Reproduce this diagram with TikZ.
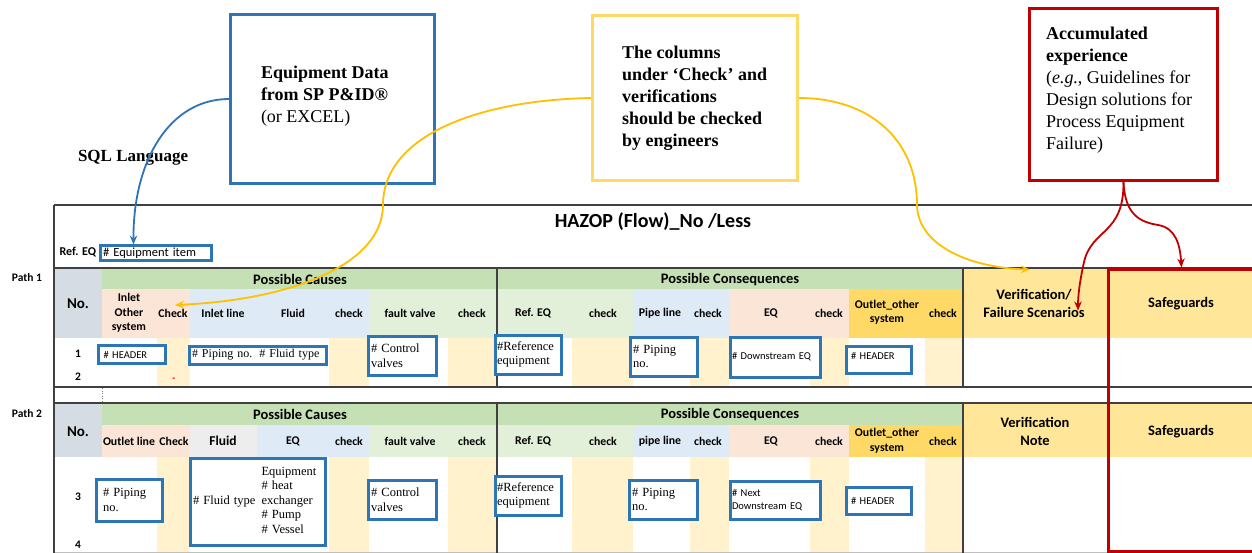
\documentclass[tikz,border=0pt]{standalone}
\usepackage{fontspec}
\setmainfont{Liberation Serif}
\newfontfamily\calib{Carlito}
\usetikzlibrary{arrows.meta}
\definecolor{eqblue}{HTML}{2E75B6}
\definecolor{rd}{HTML}{C00000}
\definecolor{ylw}{HTML}{FFC000}
\definecolor{ylwbox}{HTML}{FFD966}
\definecolor{nocol}{HTML}{D6DCE4}
\definecolor{cband}{HTML}{C5E0B4}
\definecolor{salmon}{HTML}{FBE5D6}
\definecolor{ltblue}{HTML}{DEEBF7}
\definecolor{ltgreen}{HTML}{E2F0D9}
\definecolor{gold}{HTML}{FFD966}
\definecolor{vergold}{HTML}{FFE699}
\definecolor{paley}{HTML}{FFF2CC}
\definecolor{ltgray}{HTML}{EDEDED}
\definecolor{frm}{HTML}{404040}
\hyphenpenalty=10000
\exhyphenpenalty=10000
\begin{document}
\begin{tikzpicture}[x=1pt,y=-1pt,
 tx/.style={inner sep=0pt, outer sep=0pt},
 hd/.style={tx, font=\calib\bfseries\fontsize{11.8}{14.5}\selectfont, align=center},
 bandtxt/.style={tx, font=\calib\bfseries\fontsize{14.5}{17}\selectfont},
 bighd/.style={tx, font=\calib\bfseries\fontsize{14.5}{18}\selectfont, align=center},
 lab/.style={tx, font=\calib\bfseries\fontsize{11.5}{13}\selectfont},
 nohd/.style={tx, font=\calib\bfseries\fontsize{15}{18}\selectfont},
 tline/.style={draw=frm, line width=1.6pt},
 bb/.style={draw=eqblue, line width=3pt, fill=white, inner xsep=3pt, inner ysep=0pt, align=left, anchor=north west, font=\fontsize{12.5}{14.5}\selectfont},
 cb/.style={bb, font=\calib\fontsize{10.5}{13}\selectfont},
 frame box/.style={line width=3pt, inner sep=0pt},
 toptext/.style={tx, anchor=north west, align=left, font=\fontsize{18}{22}\selectfont},
 arr/.style={line width=1.8pt, -{Stealth[length=9pt,width=7.5pt]}},
]
\useasboundingbox (0,0) rectangle (1252,553);
\fill[white] (0,0) rectangle (1252,553);

% ---------- Path 1 fills ----------
\fill[nocol] (54,268) rectangle (102,338);
\fill[cband] (102,268) rectangle (963,289);
\fill[salmon] (102,289) rectangle (190,338);
\fill[ltblue] (190,289) rectangle (369,338);
\fill[ltgreen] (369,289) rectangle (633,338);
\fill[ltblue] (633,289) rectangle (729,338);
\fill[salmon] (729,289) rectangle (849,338);
\fill[gold] (849,289) rectangle (963,338);
\fill[vergold] (963,268) rectangle (1252,338);
\foreach \a/\b in {157/190,329/369,448/497,572/633,690/729,810/849,925/963}
  \fill[paley] (\a,338) rectangle (\b,387);

% ---------- Path 2 fills ----------
\fill[nocol] (54,403) rectangle (102,457);
\fill[cband] (102,403) rectangle (963,425);
\fill[salmon] (102,425) rectangle (190,457);
\fill[ltgray] (190,425) rectangle (257,457);
\fill[ltblue] (257,425) rectangle (369,457);
\fill[ltgreen] (369,425) rectangle (633,457);
\fill[ltblue] (633,425) rectangle (729,457);
\fill[salmon] (729,425) rectangle (849,457);
\fill[gold] (849,425) rectangle (963,457);
\fill[vergold] (963,403) rectangle (1252,457);
\foreach \a/\b in {157/190,329/369,448/497,572/633,690/729,810/849,925/963}
  \fill[paley] (\a,457) rectangle (\b,553);

% ---------- table lines ----------
\draw[tline] (54,205) -- (1252,205);
\draw[tline] (54,268) -- (1252,268);
\draw[tline] (54,387) -- (1252,387);
\draw[tline] (54,403) -- (1252,403);
\draw[draw=black!25, line width=1.2pt] (54,552.4) -- (1252,552.4);
\draw[tline] (54,205) -- (54,553);
\foreach \x in {497,963} {
  \draw[tline] (\x,268) -- (\x,387);
  \draw[tline] (\x,403) -- (\x,553);
}
\draw[gray, dotted, line width=0.6pt] (102,388) -- (102,402);

% ---------- table header texts ----------
\node[tx, font=\calib\bfseries\fontsize{20}{24}\selectfont] (title) at (653,222) {HAZOP (Flow)\_No /Less};
\node[tx, anchor=east, font=\calib\bfseries\fontsize{12}{14}\selectfont] (refeq) at (96,252) {Ref. EQ};
\node[lab] (p1) at (27,278) {Path 1};
\node[lab] (p2) at (27,414) {Path 2};

% Path 1 headers
\node[nohd] (no1) at (78,304) {No.};
\node[bandtxt] (pc1) at (300,279.5) {Possible Causes};
\node[bandtxt] (pq1) at (730,279.5) {Possible Consequences};
\node[hd] (h1a) at (129,313) {Inlet\\Other\\system};
\node[hd] (chk1) at (173,313) {Check};
\node[hd] (h1c) at (223,313) {Inlet line};
\node[hd] (h1d) at (293,313) {Fluid};
\node[hd] (h1e) at (349,313) {check};
\node[hd] (h1f) at (410,313) {fault valve};
\node[hd] (h1g) at (472,313) {check};
\node[hd] (h1h) at (533,313) {Ref. EQ};
\node[hd] (h1i) at (603,313) {check};
\node[hd] (h1j) at (660,313) {Pipe line};
\node[hd] (h1k) at (708,313) {check};
\node[hd] (h1l) at (771,313) {EQ};
\node[hd] (h1m) at (829,313) {check};
\node[hd] (h1n) at (887,312.5) {Outlet\_other\\system};
\node[hd] (h1o) at (943,313) {check};
\node[bighd, minimum width=142pt, minimum height=70pt] (ver1) at (1034,303.5) {Verification/\\Failure Scenarios};
\node[bighd] (sg1) at (1181,304) {Safeguards};
\node[lab] (r1) at (78,354) {1};
\node[lab] (r2) at (78,377) {2};
\node[tx, text=red, font=\calib\bfseries\fontsize{10}{10}\selectfont] (dash) at (174,380) {-};

% Path 2 headers
\node[nohd] (no2) at (78,432) {No.};
\node[bandtxt] (pc2) at (300,414.5) {Possible Causes};
\node[bandtxt] (pq2) at (730,414.5) {Possible Consequences};
\node[hd] (h2a) at (129,441) {Outlet line};
\node[hd] (h2b) at (174,441) {Check};
\node[hd, font=\calib\bfseries\fontsize{13.5}{15}\selectfont] (h2c) at (223,441) {Fluid};
\node[hd] (h2d) at (293,441) {EQ};
\node[hd] (h2e) at (349,441) {check};
\node[hd] (h2f) at (410,441) {fault valve};
\node[hd] (h2g) at (472,441) {check};
\node[hd] (h2h) at (533,441) {Ref. EQ};
\node[hd] (h2i) at (603,441) {check};
\node[hd] (h2j) at (660,441) {pipe line};
\node[hd] (h2k) at (708,441) {check};
\node[hd] (h2l) at (771,441) {EQ};
\node[hd] (h2m) at (829,441) {check};
\node[hd] (h2n) at (887,441) {Outlet\_other\\system};
\node[hd] (h2o) at (943,441) {check};
\node[bighd] (ver2) at (1035,431) {Verification\\Note};
\node[bighd] (sg2) at (1181,432) {Safeguards};
\node[lab] (r3) at (78,497) {3};
\node[lab] (r4) at (78,545) {4};

% ---------- blue data boxes ----------
\node[cb, minimum width=111pt, minimum height=15pt, text width=105pt, font=\calib\fontsize{12.5}{14}\selectfont] (eqitem) at (98.5,244.5) {\# Equipment item};
% path 1
\node[cb, inner xsep=5pt, minimum width=67pt, minimum height=18pt, text width=57pt] (hdr1) at (97,344) {\# HEADER};
\node[bb, minimum width=137pt, minimum height=18pt, text width=131pt, font=\fontsize{12}{14}\selectfont] (pf1) at (187.5,344.5) {\mbox{\# Piping no.\hspace{7pt}\# Fluid type}};
\node[bb, minimum width=68pt, minimum height=39pt, text width=62pt] (cv1) at (366.5,334.5) {\# Control\\valves};
\node[bb, minimum width=66pt, minimum height=39pt, text width=62pt, inner xsep=2pt] (re1) at (493.5,333.5) {\#Reference\\equipment};
\node[bb, minimum width=67pt, minimum height=39pt, text width=61pt] (pp1) at (628.5,335.5) {\# Piping\\no.};
\node[cb, inner xsep=2pt, minimum width=90pt, minimum height=40pt, text width=86pt] (dq1) at (728.5,335.5) {\# Downstream EQ};
\node[cb, inner xsep=5pt, minimum width=65pt, minimum height=27pt, text width=55pt] (hdr2) at (844.5,344.5) {\# HEADER\\[-6pt]\mbox{}};
% path 2
\node[bb, inner xsep=7pt, minimum width=66pt, minimum height=42pt, text width=52pt] (pp2a) at (94.5,477.5) {\# Piping\\no.};
\node[bb, minimum width=135pt, minimum height=87pt, text width=129pt] (fl2) at (188.5,456.5)
  {\begin{tabular}{@{}l@{\hspace{6pt}}l@{}}\# Fluid type & \begin{tabular}[c]{@{}l@{}}Equipment\\\# heat\\exchanger\\\# Pump\\\# Vessel\end{tabular}\end{tabular}};
\node[bb, minimum width=68pt, minimum height=39pt, text width=62pt] (cv2) at (366.5,478.5) {\# Control\\valves};
\node[bb, minimum width=66pt, minimum height=39pt, text width=62pt, inner xsep=2pt] (re2) at (493.5,474.5) {\#Reference\\equipment};
\node[bb, minimum width=68pt, minimum height=39pt, text width=62pt] (pp2) at (627.5,478.5) {\# Piping\\no.};
\node[cb, inner xsep=2pt, minimum width=90pt, minimum height=38pt, text width=86pt] (dq2) at (728.5,479.5) {\# Next\\Downstream EQ};
\node[cb, inner xsep=5pt, minimum width=65pt, minimum height=27pt, text width=55pt] (hdr3) at (844.5,485.5) {\# HEADER};

% ---------- red safeguards box ----------
\node[draw=rd, frame box, minimum width=160pt, minimum height=282pt, anchor=north west] (sg) at (1106.5,267.5) {};

% ---------- top annotation boxes ----------
\node[draw=eqblue, frame box, minimum width=204pt, minimum height=169pt] (eqdata) at (332.5,99) {};
\node[toptext] (eqdatatxt) at (261,66.5) {\textbf{Equipment Data}\\\textbf{from SP P\&ID®}\\(or EXCEL)};
\node[tx, anchor=base west, font=\bfseries\fontsize{17}{20}\selectfont] (sql) at (78,162) {SQL Language};

\node[draw=ylwbox, frame box, minimum width=205pt, minimum height=165pt] (ybox) at (695,98) {};
\node[toptext, font=\bfseries\fontsize{18}{22}\selectfont] (ytxt) at (622,46.5) {The columns\\under ‘Check’ and\\verifications\\should be checked\\by engineers};

\node[draw=rd, frame box, minimum width=188pt, minimum height=172pt] (rbox) at (1123.5,94.5) {};
\node[toptext] (rtxt) at (1046,27.5) {\textbf{Accumulated}\\\textbf{experience}\\(\textit{e.g.}, Guidelines for\\Design solutions for\\Process Equipment\\Failure)};

% ---------- arrows ----------
\draw[arr, eqblue] (eqdata.west) .. controls (170,99) and (133,160) .. ([xshift=-22pt]eqitem.north);
\draw[arr, ylw] (ybox.west) .. controls (480,100) and (383,135) .. (383,205)
   .. controls (383,265) and (290,300) .. ([xshift=2pt,yshift=8pt]chk1.center);
\draw[arr, ylw] (ybox.east) .. controls (870,98) and (917,140) .. (917,205)
   .. controls (918,248) and (975,268) .. ([xshift=-4pt,yshift=-1pt]ver1.north);
\draw[arr, rd] (rbox.south) .. controls (1124,235) and (1092,228) .. (1084,262)
   .. controls (1080,280) and (1078,295) .. ([xshift=44pt,yshift=-7pt]ver1.center);
\draw[arr, rd] (rbox.south) .. controls (1125,215) and (1140,222) .. (1158,225)
   .. controls (1176,228) and (1180,245) .. ([xshift=-6.5pt]sg.north);
\end{tikzpicture}
\end{document}
